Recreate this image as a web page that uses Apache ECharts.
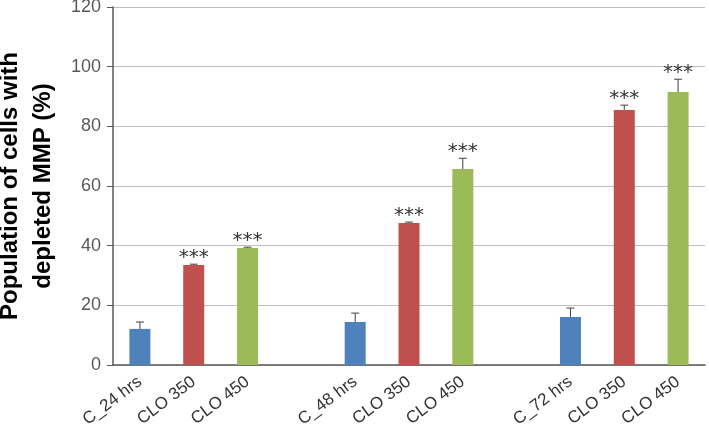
<!DOCTYPE html>
<html>
<head>
<meta charset="utf-8">
<title>MMP</title>
<script src="https://cdn.jsdelivr.net/npm/echarts@6/dist/echarts.min.js"></script>
</head>
<body style="margin:0">
<div id="main" style="width:709px;height:430px;"></div>
<script type="text/javascript">
// empty slots ('') are the gaps between the time groups
var categories = ['C_24 hrs', 'CLO 350', 'CLO 450', '', 'C_48 hrs', 'CLO 350', 'CLO 450', '', 'C_72 hrs', 'CLO 350', 'CLO 450'];
var values = [12.1, 33.5, 39.2, null, 14.4, 47.6, 65.7, null, 16.1, 85.5, 91.5];
var errors = [2.3, 0.3, 0.3, null, 3.0, 0.3, 3.6, null, 3.0, 1.6, 4.3];
var stars = ['', '***', '***', '', '', '***', '***', '', '', '***', '***'];
var colors = ['#4F81BD', '#C0504D', '#9BBB59', null, '#4F81BD', '#C0504D', '#9BBB59', null, '#4F81BD', '#C0504D', '#9BBB59'];

var barData = [];
var errData = [];
for (var i = 0; i < categories.length; i++) {
    if (values[i] == null) { barData.push(null); continue; }
    barData.push({value: values[i], itemStyle: {color: colors[i]}});
    errData.push([i, values[i], errors[i], stars[i]]);
}

var chart = echarts.init(document.getElementById('main'));
chart.setOption({
    animation: false,
    grid: {left: 113, right: 4, top: 7, bottom: 65, outerBoundsMode: 'none', containLabel: false},
    xAxis: {
        type: 'category',
        data: categories,
        axisTick: {show: false},
        axisLine: {lineStyle: {color: '#595959', width: 1.5}},
        axisLabel: {interval: 0, rotate: 37, fontSize: 17, color: '#333', fontFamily: 'Liberation Sans', margin: 15}
    },
    yAxis: {
        type: 'value',
        min: 0, max: 120, interval: 20,
        name: 'Population of cells with\ndepleted MMP (%)',
        nameLocation: 'middle',
        nameGap: 50,
        nameTextStyle: {fontSize: 24, fontWeight: 'bold', color: '#000', fontFamily: 'Liberation Sans', lineHeight: 33},
        axisLine: {show: true, lineStyle: {color: '#595959', width: 1.5}},
        axisTick: {show: true, length: 6, lineStyle: {color: '#595959'}},
        axisLabel: {fontSize: 18, color: '#595959', fontFamily: 'Liberation Sans', margin: 12},
        splitLine: {lineStyle: {color: '#bfbfbf', width: 1}}
    },
    series: [{
        type: 'bar',
        data: barData,
        barWidth: 21
    }, {
        type: 'custom',
        data: errData,
        z: 3,
        renderItem: function (params, api) {
            var x = api.value(0), v = api.value(1), e = api.value(2);
            var p0 = api.coord([x, v]);
            var p1 = api.coord([x, v + e]);
            var st = {stroke: '#404040', lineWidth: 1};
            return {
                type: 'group',
                children: [
                    {type: 'line', shape: {x1: p0[0], y1: p0[1], x2: p1[0], y2: p1[1]}, style: st},
                    {type: 'line', shape: {x1: p1[0] - 4, y1: p1[1], x2: p1[0] + 4, y2: p1[1]}, style: st},
                    {type: 'text', style: {
                        text: errData[params.dataIndex][3],
                        x: p1[0], y: p1[1] + 4,
                        align: 'center', verticalAlign: 'bottom',
                        fontSize: 20, fontFamily: 'DejaVu Sans', fill: '#333'
                    }}
                ]
            };
        }
    }]
});
</script>
</body>
</html>
